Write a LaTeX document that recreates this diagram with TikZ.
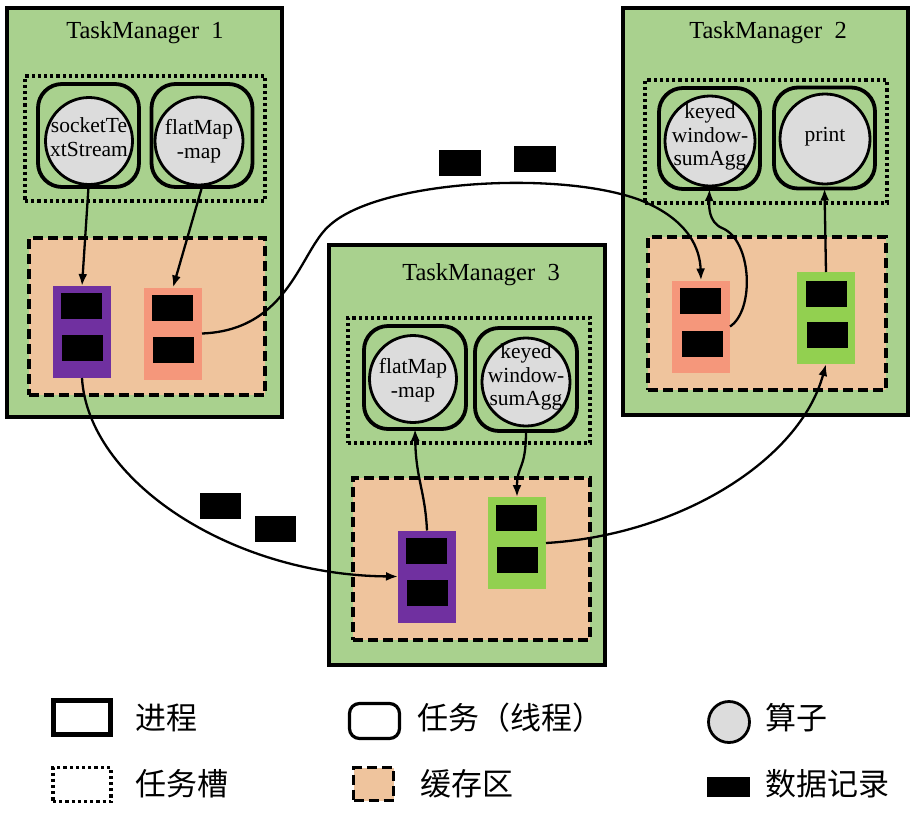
\documentclass[tikz,border=0pt]{standalone}
\usepackage{fontspec}
\setmainfont{Liberation Serif}
\newfontfamily\cjk{Noto Sans CJK SC}
\usetikzlibrary{arrows.meta}
\definecolor{tmgreen}{HTML}{A9D18E}
\definecolor{cachecol}{HTML}{EFC49D}
\definecolor{salm}{HTML}{F5977B}
\definecolor{purp}{HTML}{7030A0}
\definecolor{blkgreen}{HTML}{92D050}
\definecolor{opgray}{HTML}{DCDCDC}
\begin{document}
\begin{tikzpicture}[x=1pt,y=-1pt,
  box/.style={rectangle, inner sep=0pt, outer sep=0pt},
  tmbox/.style={box, draw=black, line width=4.5pt, fill=tmgreen},
  slotbox/.style={box, draw=black, line width=3.2pt, dash pattern=on 3.2pt off 3pt},
  taskbox/.style={box, draw=black, line width=3.8pt, rounded corners=24pt, minimum width=101pt, minimum height=103pt},
  opnode/.style={circle, draw=black, line width=2.8pt, fill=opgray, inner sep=0pt, outer sep=0pt, minimum size=88pt},
  optext/.style={align=center, font=\fontsize{21.5}{23.5}\selectfont, inner sep=0pt},
  cachebox/.style={box, draw=black, line width=3.2pt, dash pattern=on 10pt off 5pt, fill=cachecol},
  blkbox/.style={box, minimum width=58pt, minimum height=92pt},
  recbox/.style={box, fill=black, minimum width=41pt, minimum height=26pt},
  arr/.style={line width=2.3pt, -{Latex[length=12pt,width=9pt]}},
  title/.style={font=\fontsize{24.5}{27}\selectfont, inner sep=0pt},
  legtext/.style={anchor=west, font=\cjk\fontsize{31}{34}\selectfont, inner sep=0pt}
]
\fill[white] (0,0) rectangle (915,812);
\useasboundingbox (0,0) rectangle (915,812);

% ---------- TaskManager 1 ----------
\node[tmbox, minimum width=275pt, minimum height=409pt] (tm1) at (144.5,212.5) {};
\node[title] (tt1) at (145,33) {TaskManager\hspace{0.5em}1};
\node[slotbox, minimum width=240pt, minimum height=125pt] (sl1) at (145,138.5) {};
\node[taskbox] (ta1) at (88.5,135.5) {};
\node[taskbox] (tb1) at (202,135.5) {};
\node[opnode, minimum size=87pt] (oa1) at (89,141) {};
\node[optext] (xa1) at (89,137) {socketTe\\xtStream};
\node[opnode] (ob1) at (199,141) {};
\node[optext] (xb1) at (199,141) {flatMap\\-map};
\node[cachebox, minimum width=236pt, minimum height=157pt] (ca1) at (147,316.5) {};
\node[blkbox, fill=purp] (p1) at (82,332) {};
\node[recbox] (p1a) at (81.5,305.5) {};
\node[recbox] (p1b) at (82.5,348) {};
\node[blkbox, fill=salm] (s1) at (173,333.5) {};
\node[recbox] (s1a) at (172.5,307.5) {};
\node[recbox] (s1b) at (173.5,350) {};

% ---------- TaskManager 2 ----------
\node[tmbox, minimum width=285pt, minimum height=407pt] (tm2) at (765.5,211.5) {};
\node[title] (tt2) at (768,33) {TaskManager\hspace{0.5em}2};
\node[slotbox, minimum width=242pt, minimum height=123pt] (sl2) at (766,141.5) {};
\node[taskbox, minimum height=101pt] (ta2) at (709.5,138.5) {};
\node[taskbox, minimum height=101pt] (tb2) at (824.5,138) {};
\node[opnode, minimum size=90pt] (oa2) at (710,141) {};
\node[optext] (xa2) at (710,137) {keyed\\window-\\sumAgg};
\node[opnode, minimum size=90pt] (ob2) at (825,139) {};
\node[optext] (xb2) at (825,137) {print};
\node[cachebox, minimum width=238pt, minimum height=153pt] (ca2) at (767,313.5) {};
\node[blkbox, fill=salm] (s2) at (701,326.5) {};
\node[recbox] (s2a) at (700.5,301) {};
\node[recbox] (s2b) at (702,343.5) {};
\node[blkbox, fill=blkgreen] (g2) at (826,318) {};
\node[recbox] (g2a) at (826,293.5) {};
\node[recbox] (g2b) at (827,335) {};

% ---------- TaskManager 3 ----------
\node[tmbox, minimum width=276pt, minimum height=420pt] (tm3) at (467,455) {};
\node[title] (tt3) at (481,275) {TaskManager\hspace{0.5em}3};
\node[slotbox, minimum width=242pt, minimum height=125pt] (sl3) at (469,380.5) {};
\node[taskbox, minimum width=102pt] (ta3) at (415,377.5) {};
\node[taskbox, minimum width=102pt] (tb3) at (526,379.5) {};
\node[opnode, minimum size=87pt] (oa3) at (413,379) {};
\node[optext] (xa3) at (413,380) {flatMap\\-map};
\node[opnode] (ob3) at (526,382) {};
\node[optext] (xb3) at (526,377) {keyed\\window-\\sumAgg};
\node[cachebox, minimum width=237pt, minimum height=162pt] (ca3) at (471.5,559) {};
\node[blkbox, fill=purp] (p3) at (427,576.5) {};
\node[recbox] (p3a) at (426.5,550.5) {};
\node[recbox] (p3b) at (427,593) {};
\node[blkbox, fill=blkgreen] (g3) at (517,543) {};
\node[recbox] (g3a) at (516.5,518) {};
\node[recbox] (g3b) at (517.5,560) {};

% ---------- records in transit ----------
\node[recbox, minimum width=42pt] (f1) at (460,163) {};
\node[recbox, minimum width=42pt] (f2) at (535,158.5) {};
\node[recbox] (f3) at (220.5,505.5) {};
\node[recbox] (f4) at (275.5,529) {};

% ---------- connectors ----------
\draw[arr] (ta1.south) -- (p1.north);
\draw[arr] (tb1.south) -- (s1.north);
\draw[arr] (s1.east) .. controls (290,330) and (300,250) .. (330,225)
  .. controls (380,180) and (560,170) .. (640,200)
  .. controls (690,220) and (700,250) .. (s2.north);
\draw[arr] (s2.east) .. controls (755,310) and (752,240) .. (722,228)
  .. controls (708,222) and (709,205) .. (ta2.south);
\draw[arr] (g2.north) -- (tb2.south);
\draw[arr] (p1.south) .. controls (88,480) and (230,575) .. (p3.west);
\draw[arr] (p3.north) .. controls (425,490) and (416,480) .. (ta3.south);
\draw[arr] (tb3.south) .. controls (526,470) and (517,465) .. (g3.north);
\draw[arr] (g3.east) .. controls (680,535) and (800,460) .. (g2.south);

% ---------- legend ----------
\node[box, draw=black, line width=4.5pt, minimum width=57pt, minimum height=34pt] (lg1) at (82,717.5) {};
\node[legtext] (lt1) at (135,717.5) {进程};
\node[box, draw=black, line width=3.2pt, rounded corners=10pt, minimum width=50pt, minimum height=35pt] (lg2) at (374.5,721) {};
\node[legtext] (lt2) at (417,718) {任务（线程）};
\node[circle, draw=black, line width=2.8pt, fill=opgray, inner sep=0pt, minimum size=41pt] (lg3) at (729,722) {};
\node[legtext] (lt3) at (765,718) {算子};
\node[slotbox, minimum width=58pt, minimum height=34pt] (lg4) at (82,784.5) {};
\node[legtext] (lt4) at (135,784) {任务槽};
\node[cachebox, minimum width=40pt, minimum height=33pt] (lg5) at (373.5,784) {};
\node[legtext] (lt5) at (420,784) {缓存区};
\node[recbox, minimum width=43pt, minimum height=20pt] (lg6) at (728.5,787) {};
\node[legtext] (lt6) at (765,784) {数据记录};
\end{tikzpicture}
\end{document}
